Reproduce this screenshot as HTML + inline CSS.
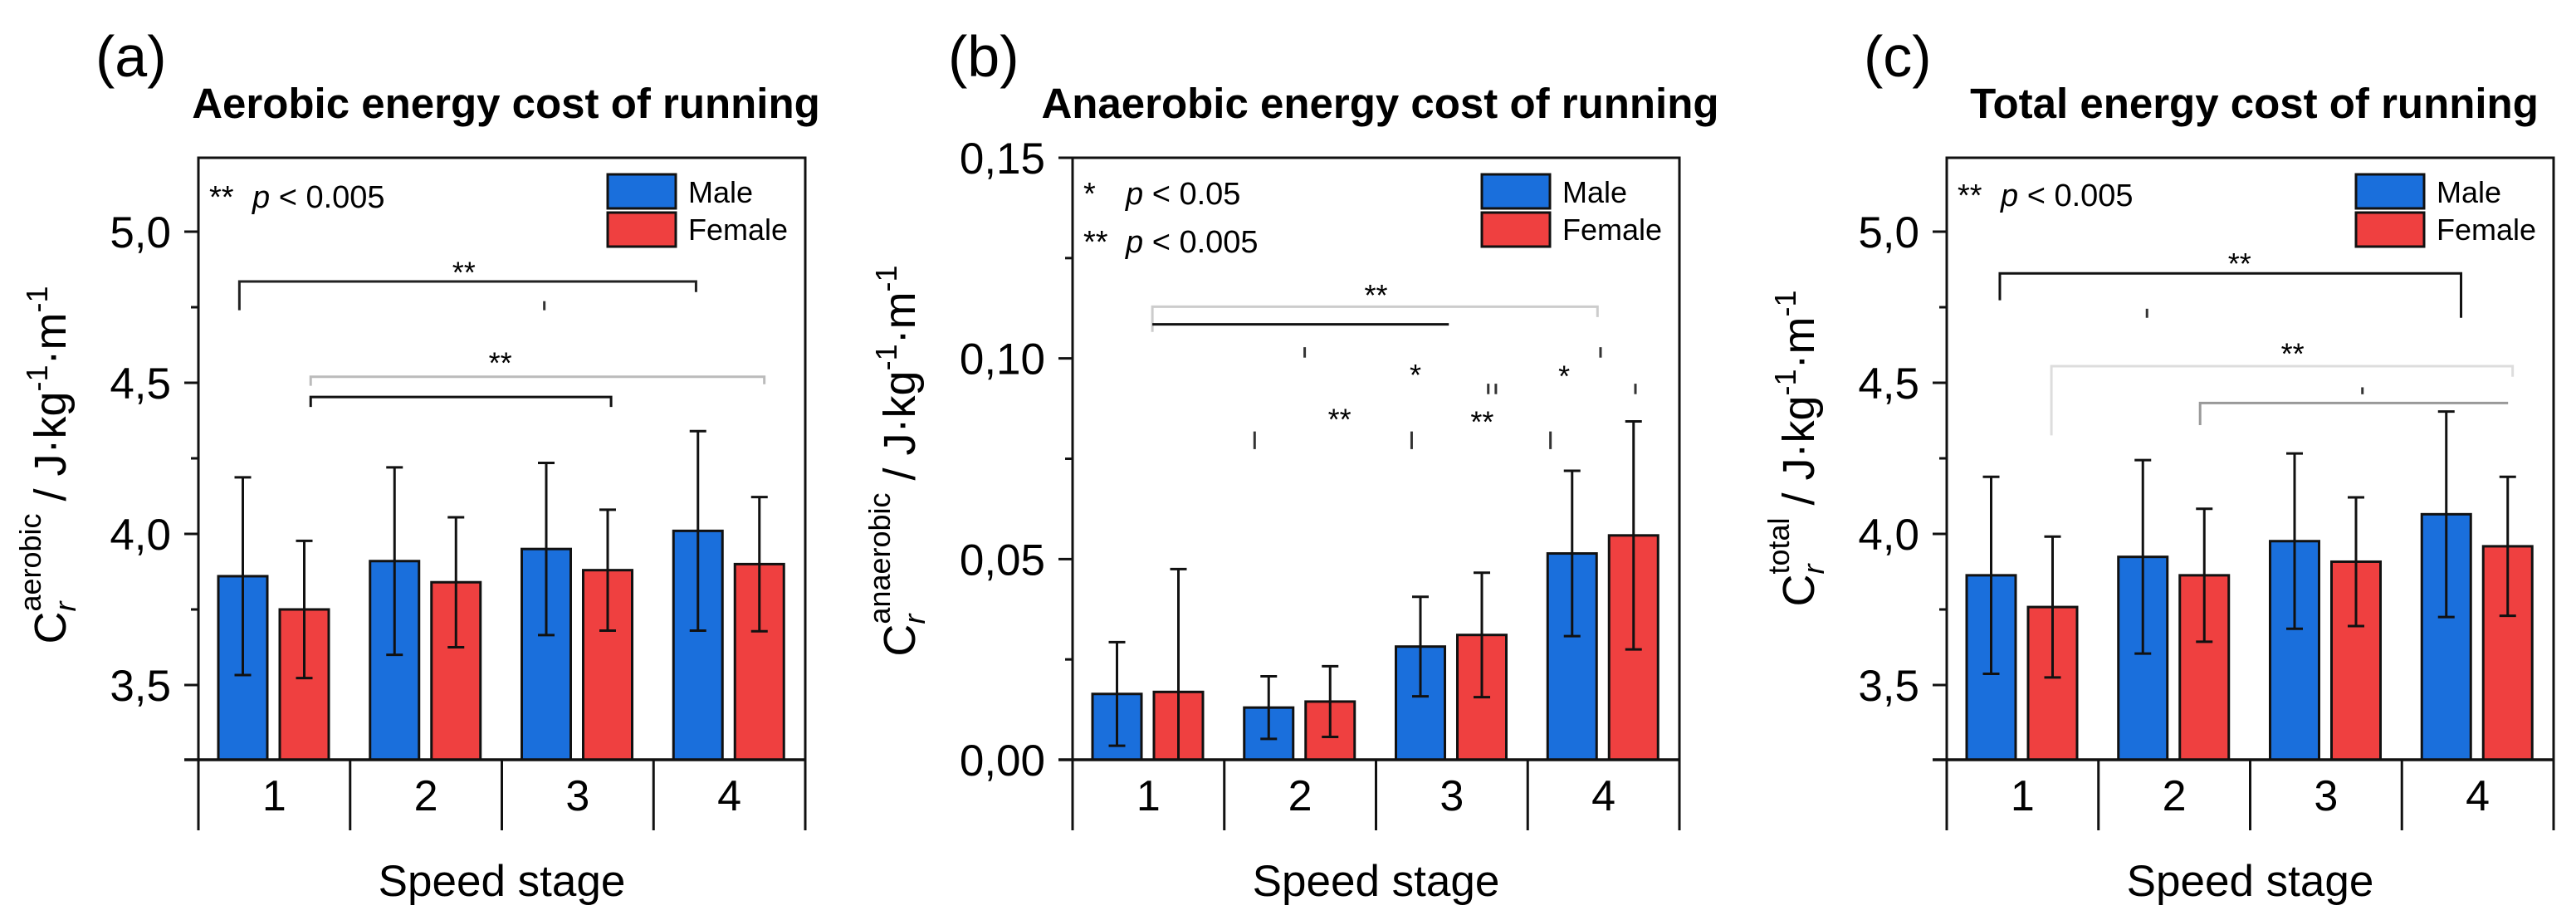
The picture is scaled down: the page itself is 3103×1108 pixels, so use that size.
<!DOCTYPE html>
<html><head><meta charset="utf-8">
<style>
html,body{margin:0;padding:0;background:#fff;}
svg{display:block;font-family:"Liberation Sans",Arial,sans-serif;}
</style></head>
<body>
<svg id="fig" width="3103" height="1108" viewBox="0 0 3103 1108" xmlns="http://www.w3.org/2000/svg"></svg>
<script>
// ---- data ----
const categories = ['1','2','3','4'];
const seriesNames = ['Male','Female'];
// panel a: aerobic
const aMale = [3.86, 3.91, 3.95, 4.01];
const aMaleSD = [0.327, 0.31, 0.285, 0.33];
const aFemale = [3.75, 3.84, 3.88, 3.90];
const aFemaleSD = [0.227, 0.215, 0.20, 0.222];
const aTicks = [3.5, 4.0, 4.5, 5.0];
const aTickLabels = ['3,5','4,0','4,5','5,0'];
const aMinor = [3.75, 4.25, 4.75];
// panel b: anaerobic
const bMale = [0.0164, 0.013, 0.0282, 0.0514];
const bMaleSD = [0.0129, 0.0078, 0.0124, 0.0206];
const bFemale = [0.0169, 0.0145, 0.0311, 0.0559];
const bFemaleSD = [0.0306, 0.0088, 0.0155, 0.0284];
const bTicks = [0, 0.05, 0.10, 0.15];
const bTickLabels = ['0,00','0,05','0,10','0,15'];
const bMinor = [0.025, 0.075, 0.125];
// panel c: total
const cMale = [3.863, 3.924, 3.976, 4.065];
const cMaleSD = [0.326, 0.32, 0.29, 0.34];
const cFemale = [3.758, 3.863, 3.908, 3.959];
const cFemaleSD = [0.233, 0.22, 0.213, 0.23];
const cTicks = [3.5, 4.0, 4.5, 5.0];
const cTickLabels = ['3,5','4,0','4,5','5,0'];
const cMinor = [3.75, 4.25, 4.75];
// significance brackets: [u1, u2, value, leftDropTo, rightDropTo, colour]
const aBrackets = [[0.27,3.28,4.835,4.74,4.80,'#222'],[0.74,3.73,4.52,4.49,4.495,'#bbb'],[0.74,2.72,4.453,4.42,4.42,'#111']];
const aStars = [[1.75,4.87,'**'],[1.99,4.57,'**']];
const aDashes = [[2.28,4.77,4.74]];
const bBrackets = [[0.526,3.46,0.1129,0.1066,0.1103,'#ccc'],[0.526,2.48,0.1085,0.1085,0.1085,'#111']];
const bStars = [[2.0,0.1161,'**'],[1.76,0.0851,'**'],[2.26,0.0962,'*'],[2.70,0.0845,'**'],[3.24,0.0959,'*']];
const bDashes = [[1.53,0.1028,0.1002],[1.2,0.0818,0.0774],[2.235,0.0818,0.0774],[3.15,0.0818,0.0774],[3.48,0.1028,0.1002],[3.71,0.0937,0.0911],[2.74,0.0937,0.0911],[2.79,0.0937,0.0911]];
const cBrackets = [[0.35,3.39,4.862,4.773,4.715,'#111'],[0.69,3.73,4.555,4.326,4.52,'#ddd'],[1.67,3.70,4.433,4.36,4.433,'#999']];
const cStars = [[1.93,4.899,'**'],[2.28,4.60,'**']];
const cDashes = [[1.32,4.745,4.715],[2.74,4.485,4.462]];

const NS='http://www.w3.org/2000/svg';
const svg=document.getElementById('fig');
function mk(tag, attrs, parent, name){
  const el=document.createElementNS(NS,tag);
  for(const k in attrs) el.setAttribute(k,attrs[k]);
  
  
  (parent||svg).appendChild(el);
  return el;
}
const TOP=190, AXY=915, BOXB=1000, W=731;

function panel(cfg){
  const L=cfg.L, cw=W/4;
  const g=mk('g',{},svg,cfg.id+'-panel');
  const y=v=>AXY-(v-cfg.min)/(cfg.max-cfg.min)*(AXY-TOP);
  const xu=u=>L+u*cw;
  // title & label
  const pl=mk('text',{x:L+cfg.labDx,y:92,'font-size':70},g,cfg.id+'-panel-label'); pl.textContent='('+cfg.id+')';
  const t=mk('text',{x:L+W/2+5,y:142,'font-size':51,'font-weight':'bold','text-anchor':'middle'},g,cfg.id+'-chart-title'); t.textContent=cfg.title;
  // bars
  const sets=[[cfg.male,cfg.maleSD,24,'#1a6fdc','male'],[cfg.female,cfg.femaleSD,98,'#ef4040','female']];
  sets.forEach(s=>{
    s[0].forEach((v,i)=>{
      const x0=L+i*cw+s[2];
      mk('rect',{x:x0,y:y(v),width:59,height:AXY-y(v),fill:s[3],stroke:'#111','stroke-width':3},g,cfg.id+'-bar-'+s[4]+'-'+categories[i]);
    });
  });
  sets.forEach(s=>{
    s[0].forEach((v,i)=>{
      const cx=L+i*cw+s[2]+29.5;
      const hi=y(v+s[1][i]);
      const loV=v-s[1][i];
      const lo=loV>cfg.min?y(loV):AXY;
      mk('line',{x1:cx,x2:cx,y1:hi,y2:lo,stroke:'#111','stroke-width':3},g,cfg.id+'-errorbar-'+s[4]+'-'+categories[i]);
      mk('line',{x1:cx-10,x2:cx+10,y1:hi,y2:hi,stroke:'#111','stroke-width':3},g,cfg.id+'-errorcap-high-'+s[4]+'-'+categories[i]);
      if(loV>cfg.min) mk('line',{x1:cx-10,x2:cx+10,y1:lo,y2:lo,stroke:'#111','stroke-width':3},g,cfg.id+'-errorcap-low-'+s[4]+'-'+categories[i]);
    });
  });
  // frame
  mk('path',{d:`M${L} ${AXY} V${TOP} H${L+W} V${AXY}`,fill:'none',stroke:'#111','stroke-width':3},g,cfg.id+'-plot-frame');
  mk('line',{x1:L-17,x2:L+W,y1:AXY,y2:AXY,stroke:'#111','stroke-width':3.5},g,cfg.id+'-x-axis');
  // lower category box
  for(let i=0;i<=4;i++){
    mk('line',{x1:L+i*cw,x2:L+i*cw,y1:AXY,y2:BOXB,stroke:'#111','stroke-width':3},g,cfg.id+'-category-divider');
  }
  categories.forEach((c,i)=>{
    const tx=mk('text',{x:L+(i+0.5)*cw,y:976,'font-size':52,'text-anchor':'middle'},g,cfg.id+'-x-tick-label'); tx.textContent=c;
  });
  const xl=mk('text',{x:L+W/2,y:1079,'font-size':53,'text-anchor':'middle'},g,cfg.id+'-x-axis-title'); xl.textContent='Speed stage';
  // y ticks
  cfg.ticks.forEach((v,i)=>{
    mk('line',{x1:L-17,x2:L,y1:y(v),y2:y(v),stroke:'#111','stroke-width':3},g,cfg.id+'-y-tick');
    const tl=mk('text',{x:L-33,y:y(v)+19,'font-size':53,'text-anchor':'end'},g,cfg.id+'-y-tick-label'); tl.textContent=cfg.tickLabels[i];
  });
  cfg.minor.forEach(v=>{
    mk('line',{x1:L-9,x2:L,y1:y(v),y2:y(v),stroke:'#111','stroke-width':3},g,cfg.id+'-y-minor-tick');
  });
  // y label
  const yl=mk('text',{transform:`translate(${L+cfg.ylDx},${cfg.ylY}) rotate(-90)`,'font-size':54,'text-anchor':'middle'},g,cfg.id+'-y-axis-title');
  yl.innerHTML=`<tspan>C</tspan><tspan font-size="36" font-style="italic" dy="12">r</tspan><tspan font-size="36" dx="-12" dy="-42">${cfg.sup}</tspan><tspan dy="30"> / J·kg</tspan><tspan font-size="36" dy="-22">-1</tspan><tspan dy="22">·m</tspan><tspan font-size="36" dy="-22">-1</tspan>`;
  // legend
  mk('rect',{x:L+493,y:210,width:82,height:41,fill:'#1a6fdc',stroke:'#111','stroke-width':3},g,cfg.id+'-legend-swatch-male');
  mk('rect',{x:L+493,y:256,width:82,height:41,fill:'#ef4040',stroke:'#111','stroke-width':3},g,cfg.id+'-legend-swatch-female');
  const lm=mk('text',{x:L+590,y:244,'font-size':36},g,cfg.id+'-legend-label-male'); lm.textContent=seriesNames[0];
  const lf=mk('text',{x:L+590,y:289,'font-size':36},g,cfg.id+'-legend-label-female'); lf.textContent=seriesNames[1];
  // p-value notes
  cfg.notes.forEach((n,i)=>{
    const tn=mk('text',{x:L+13,y:cfg.noteY[i],'font-size':38},g,cfg.id+'-significance-note');
    tn.innerHTML=`<tspan>${n[0]}</tspan><tspan x="${L+cfg.pDx}" font-style="italic">p</tspan><tspan> &lt; ${n[1]}</tspan>`;
  });
  // brackets
  cfg.brackets.forEach(b=>{
    mk('path',{d:`M${xu(b[0])} ${y(b[3])} V${y(b[2])} H${xu(b[1])} V${y(b[4])}`,fill:'none',stroke:b[5],'stroke-width':3},g,cfg.id+'-significance-bracket');
  });
  cfg.dashes.forEach(d=>{
    mk('line',{x1:xu(d[0]),x2:xu(d[0]),y1:y(d[1]),y2:y(d[2]),stroke:'#333','stroke-width':3},g,cfg.id+'-bracket-dash');
  });
  cfg.stars.forEach(s=>{
    const st=mk('text',{x:xu(s[0]),y:y(s[1])+14,'font-size':36,'text-anchor':'middle'},g,cfg.id+'-significance-stars'); st.textContent=s[2];
  });
}
panel({id:'a',L:239,min:3.2527,max:5.2445,title:'Aerobic energy cost of running',labDx:-124,ylDx:-160,ylY:560,sup:'aerobic',
  male:aMale,maleSD:aMaleSD,female:aFemale,femaleSD:aFemaleSD,ticks:aTicks,tickLabels:aTickLabels,minor:aMinor,
  notes:[['**','0.005']],noteY:[250],pDx:65,brackets:aBrackets,stars:aStars,dashes:aDashes});
panel({id:'b',L:1292,min:0,max:0.15,title:'Anaerobic energy cost of running',labDx:-150,ylDx:-190,ylY:555,sup:'anaerobic',
  male:bMale,maleSD:bMaleSD,female:bFemale,femaleSD:bFemaleSD,ticks:bTicks,tickLabels:bTickLabels,minor:bMinor,
  notes:[['*','0.05'],['**','0.005']],noteY:[246,304],pDx:64,brackets:bBrackets,stars:bStars,dashes:bDashes});
panel({id:'c',L:2345,min:3.2527,max:5.2445,title:'Total energy cost of running',labDx:-100,ylDx:-160,ylY:540,sup:'total',
  male:cMale,maleSD:cMaleSD,female:cFemale,femaleSD:cFemaleSD,ticks:cTicks,tickLabels:cTickLabels,minor:cMinor,
  notes:[['**','0.005']],noteY:[248],pDx:65,brackets:cBrackets,stars:cStars,dashes:cDashes});
</script>
</body></html>
